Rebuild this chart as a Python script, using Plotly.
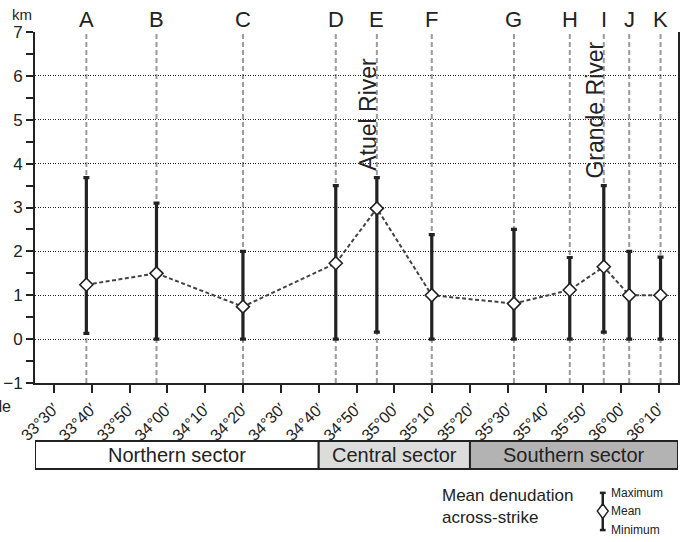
import plotly.graph_objects as go

# ---------------- data ----------------
stations = ["A", "B", "C", "D", "E", "F", "G", "H", "I", "J", "K"]
# latitude (decimal degrees, south)
lat = [33.643, 33.952, 34.333, 34.742, 34.923, 35.165, 35.527, 35.773, 35.923, 36.035, 36.173]
mean_km = [1.24, 1.50, 0.74, 1.73, 2.98, 1.00, 0.81, 1.12, 1.65, 1.00, 1.00]
max_km = [3.68, 3.10, 2.00, 3.50, 3.68, 2.38, 2.50, 1.86, 3.50, 2.00, 1.87]
min_km = [0.13, 0.00, 0.00, 0.00, 0.16, 0.00, 0.00, 0.00, 0.16, 0.00, 0.00]

tick_lat = [33.5 + i / 6 for i in range(17)]
tick_text = ["33°30′", "33°40′", "33°50′", "34°00′", "34°10′", "34°20′", "34°30′",
             "34°40′", "34°50′", "35°00′", "35°10′", "35°20′", "35°30′", "35°40′",
             "35°50′", "36°00′", "36°10′"]

rivers = ["Atuel River", "Grande River"]
river_station = ["E", "I"]
river_base = [3.80, 3.62]

sectors = ["Northern sector", "Central sector", "Southern sector"]
sector_bounds = [33 + 25 / 60, 34 + 40 / 60, 35 + 20 / 60, 36.25]
sector_fill = ["#ffffff", "#dcdcdc", "#b3b3b3"]

x_range = [33 + 25 / 60, 36.25]
y_range = [-1, 7]

FONT = "Liberation Sans, Arial, sans-serif"
INK = "#222222"

fig = go.Figure()

# dashed connecting line between means
fig.add_trace(go.Scatter(x=lat, y=mean_km, mode="lines",
                         line=dict(color="#444444", width=2, dash="4px,2.5px"),
                         hoverinfo="skip", showlegend=False))
# error bars (min..max)
fig.add_trace(go.Scatter(
    x=lat, y=mean_km, mode="markers",
    marker=dict(size=1, opacity=0),
    error_y=dict(type="data", symmetric=False,
                 array=[mx - m for mx, m in zip(max_km, mean_km)],
                 arrayminus=[m - mn for m, mn in zip(mean_km, min_km)],
                 color=INK, thickness=3.2, width=3),
    showlegend=False))
# diamonds
fig.add_trace(go.Scatter(x=lat, y=mean_km, mode="markers",
                         marker=dict(symbol="diamond", size=10, color="white",
                                     line=dict(color=INK, width=1.6)),
                         showlegend=False))

# station vertical dashed lines and letters
for s, x in zip(stations, lat):
    fig.add_shape(type="line", xref="x", yref="y", x0=x, x1=x, y0=y_range[0], y1=y_range[1],
                  line=dict(color="#9a9a9a", width=2, dash="5px,3px"), layer="below")
    fig.add_annotation(x=x, y=y_range[1], xref="x", yref="y", text=s, showarrow=False,
                       xanchor="center", yanchor="bottom", yshift=-2,
                       font=dict(family=FONT, size=22, color=INK))

# river labels
for r, st, yb in zip(rivers, river_station, river_base):
    x = lat[stations.index(st)]
    fig.add_annotation(x=x, y=yb, xref="x", yref="y", text=r, showarrow=False,
                       textangle=-90, xanchor="right", yanchor="bottom", xshift=6,
                       font=dict(family=FONT, size=23, color=INK))

# sector boxes
for i, name in enumerate(sectors):
    x0, x1 = sector_bounds[i], sector_bounds[i + 1]
    fig.add_shape(type="rect", xref="x", yref="paper", x0=x0, x1=x1, y0=-0.245, y1=-0.165,
                  line=dict(color=INK, width=2), fillcolor=sector_fill[i])
    fig.add_annotation(x=(x0 + x1) / 2, y=-0.205, xref="x", yref="paper", text=name,
                       showarrow=False, xanchor="center", yanchor="middle",
                       font=dict(family=FONT, size=20, color=INK))

# axis text
fig.add_annotation(x=-0.0202, y=1.051, xref="paper", yref="paper", text="km", showarrow=False,
                   xanchor="center", yanchor="middle",
                   font=dict(family=FONT, size=15, color=INK))
fig.add_annotation(x=-0.034, y=-0.068, xref="paper", yref="paper", text="Latitude",
                   showarrow=False, xanchor="right", yanchor="middle",
                   font=dict(family=FONT, size=16, color=INK))

# legend glyph
lx = 0.883
fig.add_shape(type="line", xref="paper", yref="paper", x0=lx, x1=lx, y0=-0.313, y1=-0.419,
              line=dict(color=INK, width=2.5))
for yy in (-0.313, -0.419):
    fig.add_shape(type="line", xref="paper", yref="paper", x0=lx - 0.0045, x1=lx + 0.0045,
                  y0=yy, y1=yy, line=dict(color=INK, width=2.5))
dy, dx = 0.021, 0.0085
cy = -0.365
fig.add_shape(type="path", xref="paper", yref="paper",
              path=f"M {lx} {cy + dy} L {lx + dx} {cy} L {lx} {cy - dy} L {lx - dx} {cy} Z",
              fillcolor="white", line=dict(color=INK, width=1.5))
for t, yy in zip(["Maximum", "Mean", "Minimum"], [-0.313, -0.365, -0.419]):
    fig.add_annotation(x=lx + 0.009, y=yy, xref="paper", yref="paper", text=t, showarrow=False,
                       xanchor="left", yanchor="middle",
                       font=dict(family=FONT, size=12, color=INK))
fig.add_annotation(x=0.63, y=-0.352, xref="paper", yref="paper",
                   text="Mean denudation<br>across-strike", showarrow=False,
                   xanchor="left", yanchor="middle", align="left",
                   font=dict(family=FONT, size=17, color=INK))

fig.update_layout(
    width=687, height=542,
    margin=dict(l=35, r=9, t=32, b=159),
    paper_bgcolor="white", plot_bgcolor="white",
    font=dict(family=FONT, color=INK),
    showlegend=False,
    xaxis=dict(range=x_range, tickvals=tick_lat, ticktext=tick_text, tickangle=-45,
               ticks="outside", ticklen=8, tickwidth=2, tickcolor=INK,
               showline=True, linewidth=2, linecolor=INK, mirror=False,
               showgrid=False, zeroline=False, automargin=False,
               tickfont=dict(family=FONT, size=16, color=INK)),
    yaxis=dict(range=y_range, dtick=1, tick0=0,
               ticks="outside", ticklen=7, tickwidth=2, tickcolor=INK,
               minor=dict(dtick=0.5, ticks="outside", ticklen=7, tickwidth=2, tickcolor=INK,
                          showgrid=False),
               showline=True, linewidth=2, linecolor=INK, mirror=True,
               showgrid=True, gridcolor=INK, gridwidth=1, griddash="1px,1.5px",
               zeroline=False, automargin=False,
               tickfont=dict(family=FONT, size=17, color=INK)),
)

fig.write_html("out.html")
